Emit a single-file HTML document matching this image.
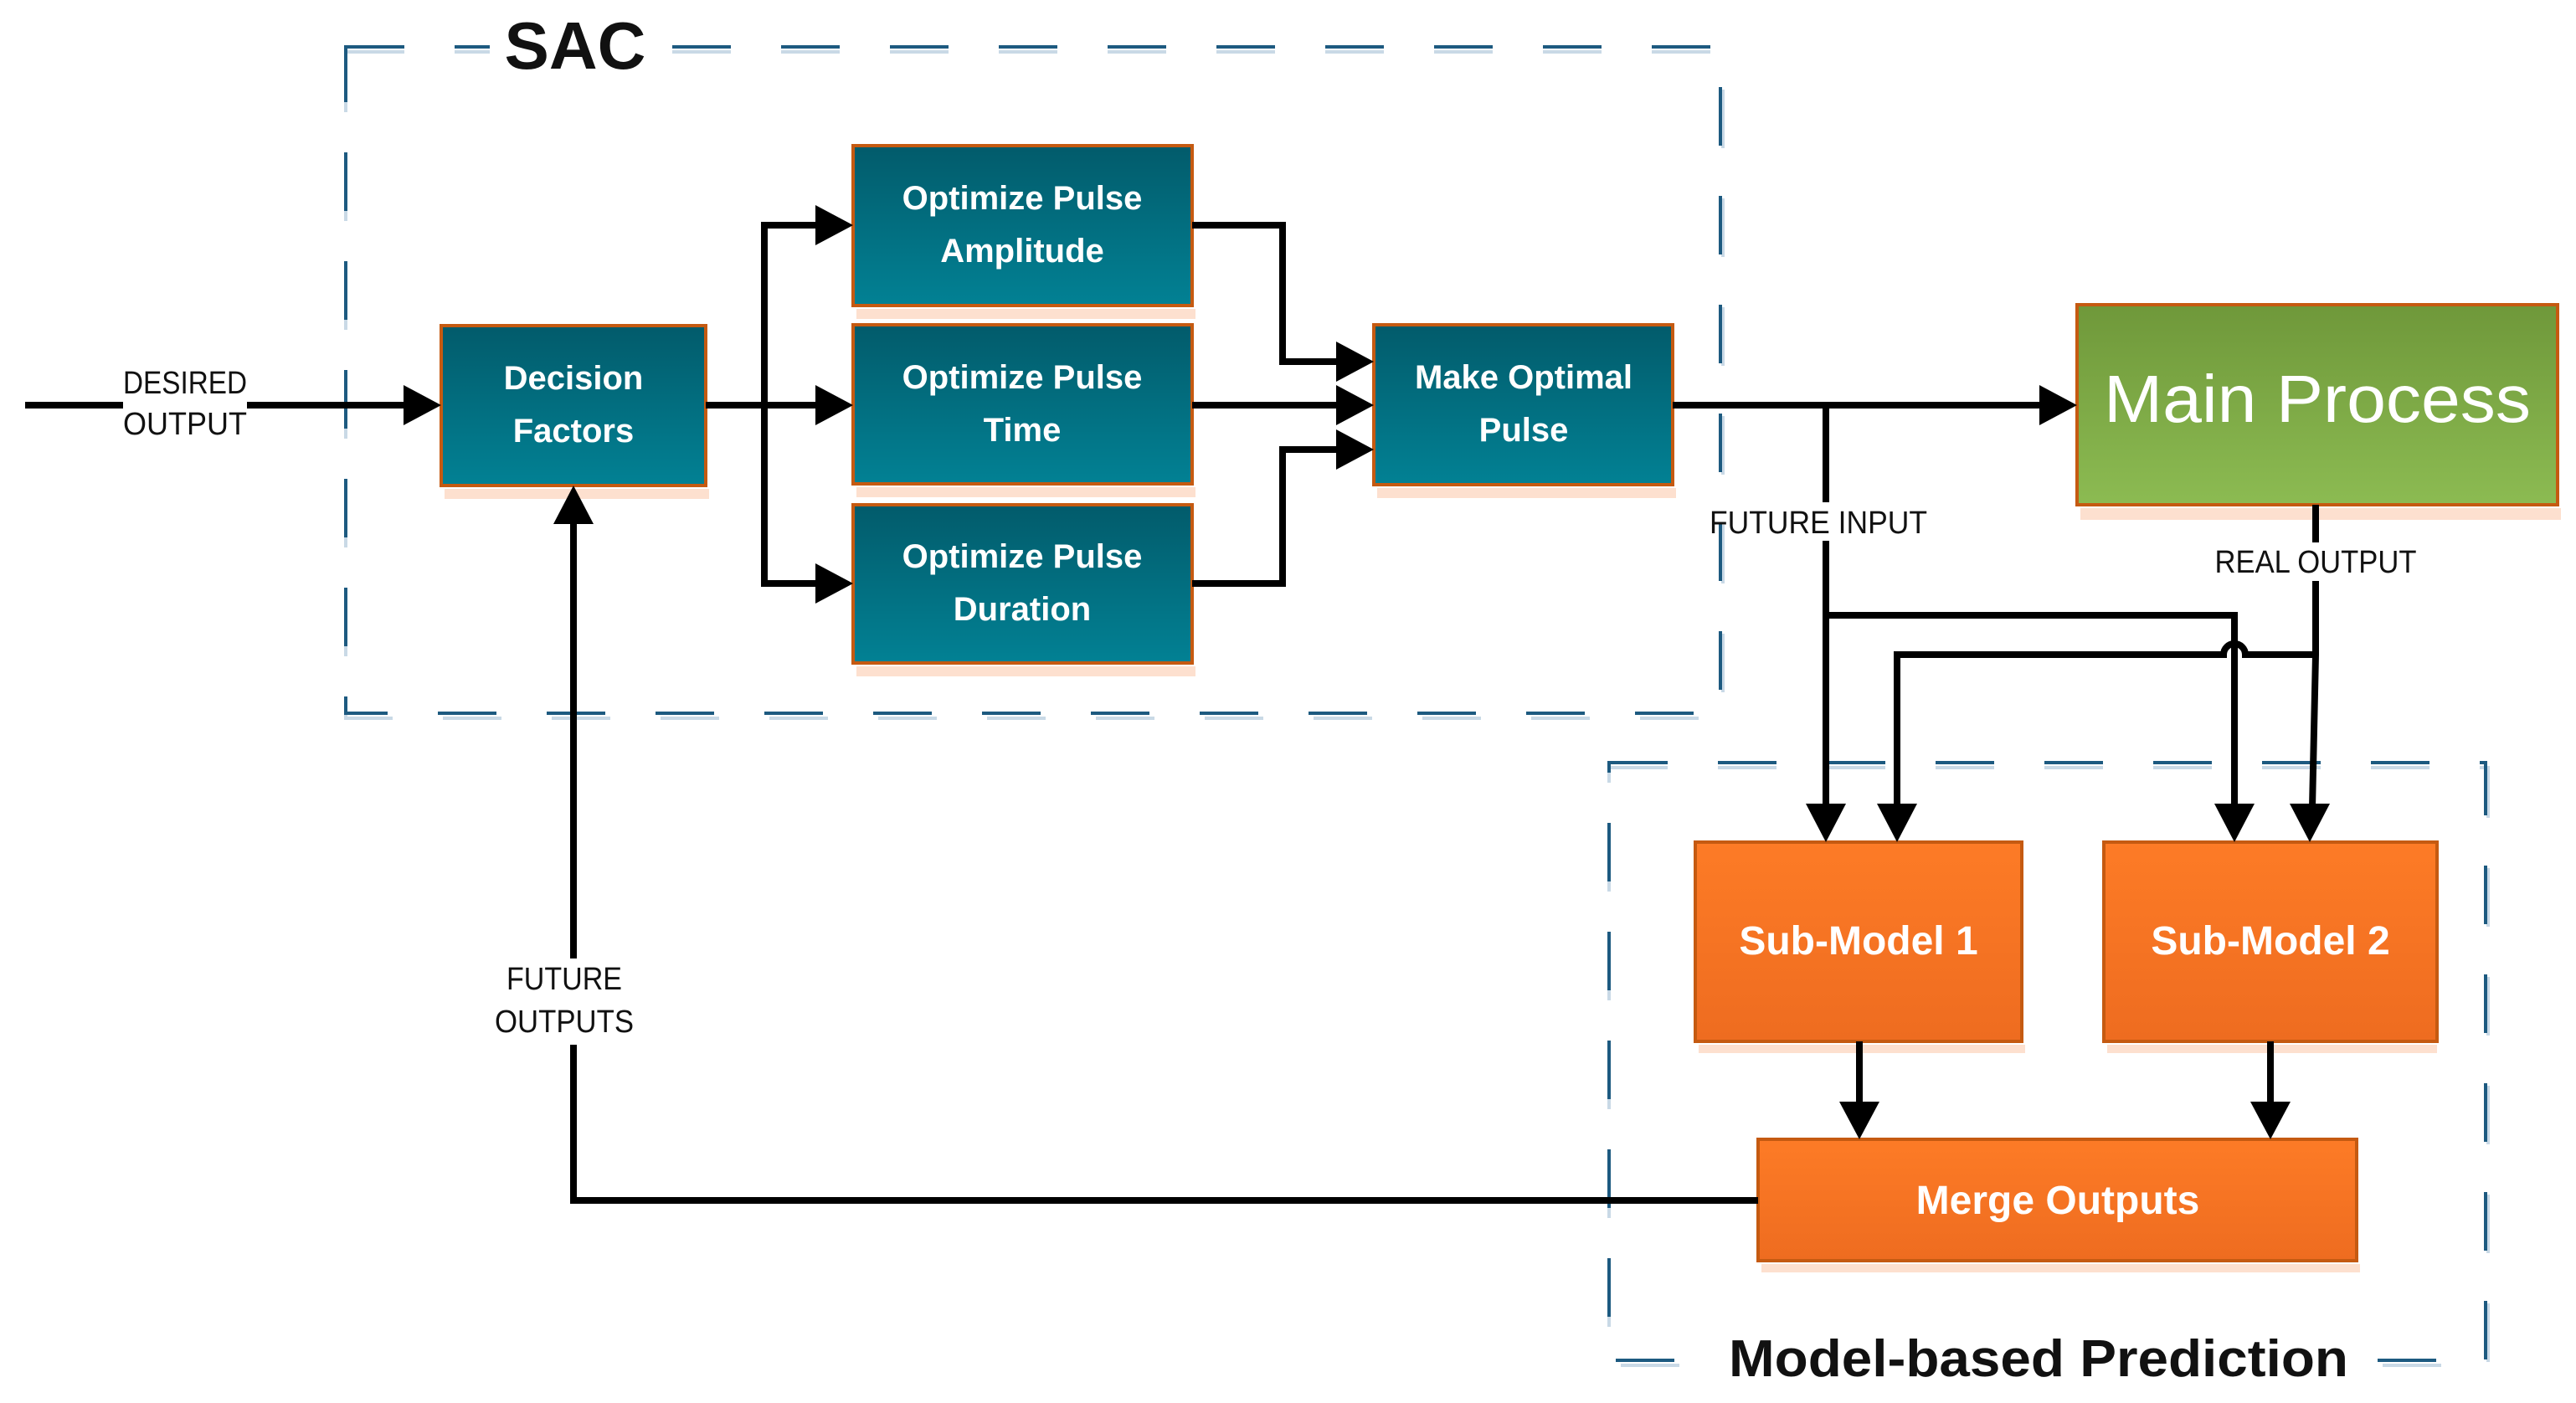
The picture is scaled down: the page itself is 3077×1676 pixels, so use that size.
<!DOCTYPE html>
<html><head><meta charset="utf-8"><style>
html,body{margin:0;padding:0;background:#fff;}
svg{display:block;}
</style></head><body>
<svg width="3077" height="1676" viewBox="0 0 3077 1676" xmlns="http://www.w3.org/2000/svg">
<defs>
<linearGradient id="teal" x1="0" y1="0" x2="0" y2="1"><stop offset="0" stop-color="#025b6b"/><stop offset="1" stop-color="#028194"/></linearGradient>
<linearGradient id="green" x1="0" y1="0" x2="0" y2="1"><stop offset="0" stop-color="#6f983a"/><stop offset="1" stop-color="#8cbb52"/></linearGradient>
<linearGradient id="orange" x1="0" y1="0" x2="0" y2="1"><stop offset="0" stop-color="#fd7b26"/><stop offset="1" stop-color="#ee6c20"/></linearGradient>
</defs>

<!-- dashed group boxes -->
<g fill="none" stroke-dasharray="70,60" stroke-width="4">
<path d="M413,62 L2058,62 L2058,858 L413,858 Z" stroke="#c9d9e6"/>
<path d="M413,56 L2055,56 L2055,852 L413,852 Z" stroke="#1d5a80"/>
<path d="M1922,917 L2972,917 L2972,1631 L1922,1631 Z" stroke="#c9d9e6"/>
<path d="M1922,911 L2969,911 L2969,1625 L1922,1625 Z" stroke="#1d5a80"/>
</g>
<rect x="585" y="10" width="205" height="90" fill="#fff"/>
<text x="687" y="82" font-family="Liberation Sans, sans-serif" font-weight="bold" font-size="80" text-anchor="middle" fill="#111">SAC</text>
<rect x="2050" y="1580" width="770" height="96" fill="#fff"/>
<text x="2435" y="1644" font-family="Liberation Sans, sans-serif" font-weight="bold" font-size="62" text-anchor="middle" fill="#111" textLength="740" lengthAdjust="spacingAndGlyphs">Model-based Prediction</text>

<!-- boxes with shadow -->
<g stroke="#c55a11" stroke-width="4">
<rect x="531" y="584" width="316" height="12" fill="#fde0cf" stroke="none"/>
<rect x="527" y="389" width="316" height="191" fill="url(#teal)"/>
<rect x="1023" y="369" width="405" height="12" fill="#fde0cf" stroke="none"/>
<rect x="1019" y="174" width="405" height="191" fill="url(#teal)"/>
<rect x="1023" y="582" width="405" height="12" fill="#fde0cf" stroke="none"/>
<rect x="1019" y="388" width="405" height="190" fill="url(#teal)"/>
<rect x="1023" y="796" width="405" height="12" fill="#fde0cf" stroke="none"/>
<rect x="1019" y="603" width="405" height="189" fill="url(#teal)"/>
<rect x="1645" y="583" width="357" height="12" fill="#fde0cf" stroke="none"/>
<rect x="1641" y="388" width="357" height="191" fill="url(#teal)"/>
<rect x="2485" y="607" width="574" height="14" fill="#fde0cf" stroke="none"/>
<rect x="2481" y="364" width="574" height="239" fill="url(#green)"/>
<rect x="2029" y="1248" width="390" height="10" fill="#fde0cf" stroke="none"/>
<rect x="2025" y="1006" width="390" height="238" fill="url(#orange)"/>
<rect x="2517" y="1248" width="394" height="10" fill="#fde0cf" stroke="none"/>
<rect x="2513" y="1006" width="398" height="238" fill="url(#orange)"/>
<rect x="2104" y="1510" width="715" height="10" fill="#fde0cf" stroke="none"/>
<rect x="2100" y="1361" width="715" height="145" fill="url(#orange)"/>
</g>

<g font-family="Liberation Sans, sans-serif" font-weight="bold" fill="#fff" text-anchor="middle" font-size="40">
<text x="685" y="465">Decision</text><text x="685" y="528">Factors</text>
<text x="1221" y="250">Optimize Pulse</text><text x="1221" y="313">Amplitude</text>
<text x="1221" y="464">Optimize Pulse</text><text x="1221" y="527">Time</text>
<text x="1221" y="678">Optimize Pulse</text><text x="1221" y="741">Duration</text>
<text x="1820" y="464">Make Optimal</text><text x="1820" y="527">Pulse</text>
<text x="2768" y="504" font-weight="normal" font-size="80" textLength="510" lengthAdjust="spacingAndGlyphs">Main Process</text>
<text x="2220" y="1140" font-size="48">Sub-Model 1</text>
<text x="2712" y="1140" font-size="48">Sub-Model 2</text>
<text x="2458" y="1450" font-size="48">Merge Outputs</text>
</g>

<!-- connectors -->
<g fill="none" stroke="#000" stroke-width="8" stroke-linejoin="miter">
<path d="M30,484 L147,484 M295,484 L485,484"/>
<path d="M843,484 L977,484"/>
<path d="M977,269 L913,269 L913,697 L977,697"/>
<path d="M1424,269 L1532,269 L1532,432 L1600,432"/>
<path d="M1424,484 L1600,484"/>
<path d="M1424,697 L1532,697 L1532,537 L1600,537"/>
<path d="M1998,484 L2440,484"/>
<path d="M2181,484 L2181,600 M2181,646 L2181,965"/>
<path d="M2181,735 L2669,735 L2669,965"/>
<path d="M2766,603 L2766,648 M2766,694 L2766,782 L2762,965"/>
<path d="M2766,782 L2682,782 A13,13 0 0 0 2656,782 L2266,782 L2266,965"/>
<path d="M2221,1244 L2221,1320"/>
<path d="M2712,1244 L2712,1320"/>
<path d="M2100,1434 L685,1434 L685,1248 M685,1145 L685,622"/>
</g>
<g fill="#000">
<path d="M527,484 L482,460 L482,508 Z"/>
<path d="M1019,269 L974,245 L974,293 Z"/>
<path d="M1019,484 L974,460 L974,508 Z"/>
<path d="M1019,697 L974,673 L974,721 Z"/>
<path d="M1641,432 L1596,408 L1596,456 Z"/>
<path d="M1641,484 L1596,460 L1596,508 Z"/>
<path d="M1641,537 L1596,513 L1596,561 Z"/>
<path d="M2481,484 L2436,460 L2436,508 Z"/>
<path d="M2181,1006 L2157,960 L2205,960 Z"/>
<path d="M2266,1006 L2242,960 L2290,960 Z"/>
<path d="M2669,1006 L2645,960 L2693,960 Z"/>
<path d="M2759,1006 L2735,960 L2783,960 Z"/>
<path d="M2221,1361 L2197,1316 L2245,1316 Z"/>
<path d="M2712,1361 L2688,1316 L2736,1316 Z"/>
<path d="M685,580 L661,626 L709,626 Z"/>
</g>

<g font-family="Liberation Sans Narrow, Liberation Sans, sans-serif" fill="#111" font-size="38" text-anchor="middle">
<text x="221" y="470" textLength="148" lengthAdjust="spacingAndGlyphs">DESIRED</text>
<text x="221" y="519" textLength="148" lengthAdjust="spacingAndGlyphs">OUTPUT</text>
<text x="2172" y="637" textLength="260" lengthAdjust="spacingAndGlyphs">FUTURE INPUT</text>
<text x="2766" y="684" textLength="241" lengthAdjust="spacingAndGlyphs">REAL OUTPUT</text>
<text x="674" y="1182" textLength="138" lengthAdjust="spacingAndGlyphs">FUTURE</text>
<text x="674" y="1233" textLength="166" lengthAdjust="spacingAndGlyphs">OUTPUTS</text>
</g>
</svg>
</body></html>
